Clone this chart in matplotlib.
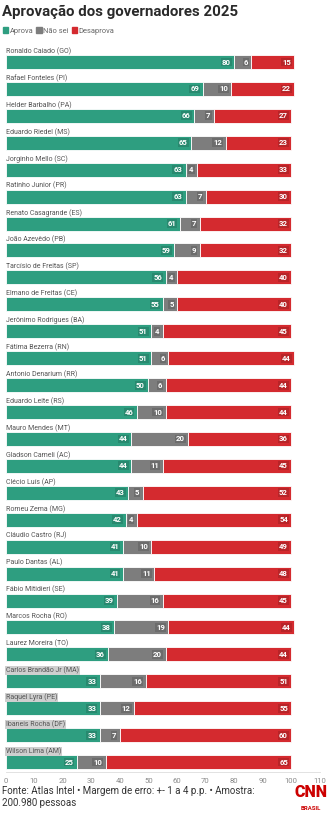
import numpy as np
import matplotlib.pyplot as plt
from matplotlib.patches import Patch

governadores = [
    "Ronaldo Caiado (GO)", "Rafael Fonteles (PI)", "Helder Barbalho (PA)",
    "Eduardo Riedel (MS)", "Jorginho Mello (SC)", "Ratinho Junior (PR)",
    "Renato Casagrande (ES)", "João Azevêdo (PB)", "Tarcísio de Freitas (SP)",
    "Elmano de Freitas (CE)", "Jerônimo Rodrigues (BA)", "Fátima Bezerra (RN)",
    "Antonio Denarium (RR)", "Eduardo Leite (RS)", "Mauro Mendes (MT)",
    "Gladson Cameli (AC)", "Clécio Luís (AP)", "Romeu Zema (MG)",
    "Cláudio Castro (RJ)", "Paulo Dantas (AL)", "Fábio Mitidieri (SE)",
    "Marcos Rocha (RO)", "Laurez Moreira (TO)", "Carlos Brandão Jr (MA)",
    "Raquel Lyra (PE)", "Ibaneis Rocha (DF)", "Wilson Lima (AM)",
]
aprova = [80, 69, 66, 65, 63, 63, 61, 59, 56, 55, 51, 51, 50, 46, 44, 44, 43, 42, 41, 41, 39, 38, 36, 33, 33, 33, 25]
nao_sei = [6, 10, 7, 12, 4, 7, 7, 9, 4, 5, 4, 6, 6, 10, 20, 11, 5, 4, 10, 11, 16, 19, 20, 16, 12, 7, 10]
desaprova = [15, 22, 27, 23, 33, 30, 32, 32, 40, 40, 45, 44, 44, 44, 36, 45, 52, 54, 49, 48, 45, 44, 44, 51, 55, 60, 65]
destaque = ["Carlos Brandão Jr (MA)", "Raquel Lyra (PE)", "Ibaneis Rocha (DF)", "Wilson Lima (AM)"]

series = [("Aprova", aprova, "#2e9e80"),
          ("Não sei", nao_sei, "#7d7d7d"),
          ("Desaprova", desaprova, "#d42a2f")]

plt.rcParams['font.family'] = ['Roboto', 'DejaVu Sans']

fig = plt.figure(figsize=(3.32, 8.22), dpi=100)
ax = fig.add_axes([0.0166, 0.0608, 0.947, 0.8905])

y = np.arange(len(governadores))
left = np.zeros(len(governadores))
for nome, vals, cor in series:
    vals = np.array(vals, dtype=float)
    ax.barh(y, vals, left=left, height=0.52, color=cor,
            edgecolor="white", linewidth=0.6, label=nome)
    for yi, l, v in zip(y, left, vals):
        ax.text(l + v - 1.2, yi, f"{int(v)}", ha="right", va="center",
                fontsize=5.6, fontweight="bold", color="white",
                bbox=dict(boxstyle="square,pad=0.12", fc=(0, 0, 0, 0.13), ec="none"))
    left += vals

for yi, nome in zip(y, governadores):
    kw = {}
    if nome in destaque:
        kw["bbox"] = dict(boxstyle="square,pad=0.1", fc="#cfcfcf", ec="none")
    ax.text(0.2, yi - 0.40, nome, ha="left", va="center", fontsize=5.0,
            color="#555555", **kw)

ax.set_xlim(0, 110)
ax.set_ylim(26.37, -0.817)
ax.set_xticks(range(0, 111, 10))
ax.set_yticks([])
ax.tick_params(axis="x", length=0, labelsize=5.6, labelcolor="#8a8a8a", pad=4)
for s in ["top", "right", "left"]:
    ax.spines[s].set_visible(False)
ax.spines["bottom"].set_color("#dddddd")
ax.spines["bottom"].set_linewidth(0.6)

fig.text(0.006, 0.985, "Aprovação dos governadores 2025", fontsize=10.8,
         fontweight="bold", color="#2a2a2a", va="center", ha="left")

handles = [Patch(color=c, label=n) for n, _, c in series]
fig.legend(handles=handles, loc="center left", bbox_to_anchor=(-0.012, 0.9625),
           ncol=3, frameon=False, fontsize=5.4, handlelength=0.7, handleheight=0.9,
           handletextpad=0.2, columnspacing=0.4, labelcolor="#666666")

fig.text(0.006, 0.0305, "Fonte: Atlas Intel • Margem de erro: +- 1 a 4 p.p. • Amostra:\n200.980 pessoas",
         fontsize=7.0, color="#333333", va="center", ha="left", linespacing=1.35)

fig.text(0.937, 0.037, "CNN", fontsize=11.5, fontweight="black", color="#cc0000",
         ha="center", va="center")
fig.text(0.937, 0.0165, "BRASIL", fontsize=4.3, fontweight="bold", color="#cc0000",
         ha="center", va="center")

fig.savefig("out.png", dpi=100)
